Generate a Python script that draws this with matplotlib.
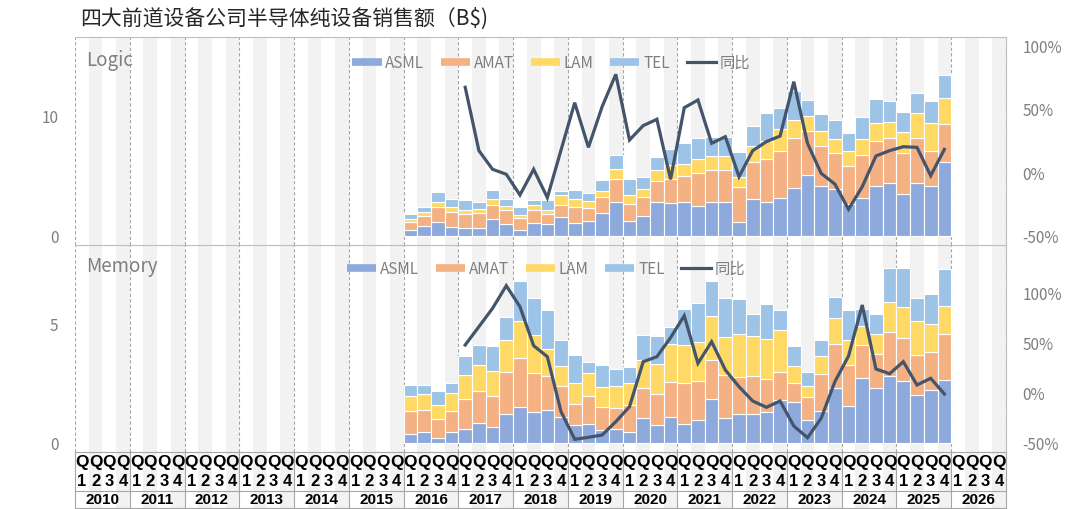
import matplotlib
matplotlib.use("Agg")
import matplotlib.pyplot as plt
import numpy as np
from matplotlib.lines import Line2D
from matplotlib.patches import Rectangle
import matplotlib.transforms as mtransforms

plt.rcParams['font.family'] = ['Noto Sans CJK SC', 'DejaVu Sans']

# ---------------- data ----------------
years = list(range(2010, 2027))
quarter_labels = ['1', '2', '3', '4']
first_bar_year = 2016          # bars from 2016Q1 to 2025Q4
first_line_year = 2017         # YoY from 2017Q1 to 2025Q4
companies = ['ASML', 'AMAT', 'LAM', 'TEL']
line_label = '同比'

logic_asml = [0.50, 0.84, 1.15, 0.76, 0.64, 0.70, 1.43, 1.04, 0.50, 1.09, 0.98, 1.62,
              1.06, 1.23, 1.96, 2.89, 1.23, 1.65, 2.83, 2.77, 2.83, 2.49, 2.86, 2.83,
              1.20, 3.08, 2.83, 3.19, 4.01, 5.13, 4.23, 3.92, 2.66, 3.22, 4.20, 4.43,
              3.56, 4.48, 4.23, 6.19]
logic_amat = [0.65, 0.87, 1.26, 1.28, 1.18, 1.20, 1.15, 1.12, 0.98, 1.09, 0.90, 1.01,
              1.35, 1.09, 1.35, 1.87, 1.46, 1.60, 1.76, 2.05, 2.21, 2.78, 2.69, 2.72,
              2.89, 3.11, 3.61, 3.98, 4.20, 3.69, 3.36, 3.03, 3.22, 3.56, 3.76, 3.83,
              3.44, 3.78, 2.94, 3.19]
logic_lam = [0.25, 0.33, 0.48, 0.42, 0.36, 0.37, 0.53, 0.33, 0.28, 0.43, 0.33, 0.79,
             0.70, 0.59, 0.44, 0.90, 0.73, 0.73, 0.93, 1.12, 0.98, 1.17, 1.14, 1.17,
             0.90, 1.37, 1.54, 1.82, 1.54, 1.26, 1.23, 1.20, 1.29, 1.40, 1.51, 1.32,
             1.71, 2.05, 2.30, 2.22]
logic_tel = [0.42, 0.42, 0.84, 0.68, 0.85, 0.62, 0.73, 0.62, 0.68, 0.39, 0.84, 0.39,
             0.76, 0.70, 0.96, 1.12, 1.40, 0.98, 1.12, 1.37, 1.82, 1.82, 1.66, 1.57,
             2.10, 1.68, 2.36, 1.79, 2.43, 1.35, 1.40, 1.60, 1.49, 1.85, 2.07, 1.79,
             1.74, 1.71, 1.85, 1.96]
logic_yoy = [67.5, 17.6, 2.9, -1.0, -17.3, 2.9, -19.4, 18.1, 55.4, 20.2, 52.2, 77.7,
             26.0, 37.3, 42.3, -5.0, 51.4, 57.5, 23.4, 28.6, -2.9, 17.6, 24.7, 29.1,
             71.9, 23.4, -0.3, -8.7, -28.6, -10.8, 13.4, 17.6, 20.7, 20.2, -2.1, 18.6]

mem_asml = [0.36, 0.46, 0.20, 0.46, 0.60, 0.83, 0.66, 1.20, 1.50, 1.29, 1.37, 1.09,
            0.74, 0.80, 0.55, 0.57, 0.45, 1.04, 0.74, 1.08, 0.78, 0.95, 1.83, 1.04,
            1.23, 1.23, 1.29, 1.81, 1.71, 0.95, 1.34, 2.30, 1.54, 2.75, 2.32, 2.83,
            2.59, 2.02, 2.24, 2.65]
mem_amat = [1.00, 0.93, 0.81, 0.90, 1.25, 1.35, 1.30, 1.80, 2.06, 1.67, 1.43, 1.29,
            0.91, 1.16, 0.95, 0.91, 1.15, 1.28, 1.30, 1.47, 1.76, 1.66, 1.64, 1.82,
            1.56, 1.60, 1.40, 1.19, 0.80, 0.97, 1.55, 1.86, 1.74, 1.37, 1.43, 1.82,
            1.84, 1.68, 1.57, 1.94]
mem_lam = [0.61, 0.65, 0.59, 0.74, 0.99, 1.10, 1.05, 1.31, 1.55, 1.58, 1.15, 0.84,
           0.89, 1.00, 0.87, 0.91, 0.94, 1.15, 1.27, 1.61, 1.59, 1.63, 1.88, 1.59,
           1.78, 1.65, 1.67, 1.76, 0.71, 0.46, 0.77, 1.11, 1.05, 0.80, 0.84, 1.29,
           1.30, 1.43, 1.19, 1.17]
mem_tel = [0.48, 0.41, 0.60, 0.44, 0.82, 0.85, 1.08, 0.98, 1.71, 1.55, 1.64, 1.09,
           1.14, 0.44, 0.89, 0.71, 0.64, 1.05, 1.20, 0.73, 1.51, 1.64, 1.46, 1.63,
           1.47, 0.93, 1.49, 0.81, 0.87, 0.60, 0.68, 0.88, 1.26, 0.71, 0.83, 1.40,
           1.64, 0.98, 1.27, 1.54]
mem_yoy = [48.0, 66.3, 84.7, 107.3, 86.3, 47.3, 36.3, -18.7, -46.3, -44.3, -42.0, -28.7,
           -13.7, 31.3, 36.3, 55.3, 77.3, 29.7, 51.3, 23.0, 6.3, -8.0, -14.3, -8.0,
           -33.0, -44.7, -25.3, 11.3, 37.0, 88.0, 24.0, 19.3, 31.3, 8.0, 14.7, -1.0]

# ---------------- style ----------------
colors = ['#8EA9DB', '#F4B183', '#FFD966', '#9DC3E6']
line_color = '#44546A'
stripe = '#F2F2F2'
grid_c = '#A6A6A6'
tick_c = '#7F7F7F'

W, H = 1080, 509
fig = plt.figure(figsize=(W / 100, H / 100), dpi=100)

x0, x1 = 75, 1006
def axrect(top, bottom):
    return [x0 / W, (H - bottom) / H, (x1 - x0) / W, (bottom - top) / H]

ax1 = fig.add_axes(axrect(37, 245))
ax2 = fig.add_axes(axrect(245, 452))

nq = len(years) * 4
bar_start = (first_bar_year - years[0]) * 4
line_start = (first_line_year - years[0]) * 4

panels = [
    (ax1, 'Logic', [logic_asml, logic_amat, logic_lam, logic_tel], logic_yoy,
     (-0.756, 16.72), [0, 10], (-56.7, 107.1), 0.875, 0.2975),
    (ax2, 'Memory', [mem_asml, mem_amat, mem_lam, mem_tel], mem_yoy,
     (-0.378, 8.32), [0, 5], (-59.0, 148.0), 0.884, 0.292),
]

for ax, name, series, yoy, ylim, yt, ylim2, legy, legx in panels:
    ax.set_xlim(-0.5, nq - 0.5)
    ax.set_ylim(*ylim)
    for q in range(nq):
        if q % 2 == 1:
            ax.axvspan(q - 0.5, q + 0.5, color=stripe, lw=0, zorder=0)
    for k in range(len(years) + 1):
        ax.axvline(k * 4 - 0.5, color=grid_c, lw=0.8, ls=(0, (3, 2)), zorder=1)
    xs = np.arange(bar_start, bar_start + len(series[0]))
    bottom = np.zeros(len(xs))
    handles = []
    for vals, c, lab in zip(series, colors, companies):
        ax.bar(xs, vals, width=1.0, bottom=bottom, color=c, edgecolor='white',
               linewidth=0.8, zorder=2)
        bottom = bottom + np.array(vals)
        handles.append(Line2D([0], [0], color=c, lw=5.5, solid_capstyle='butt', label=lab))
    ax.set_yticks(yt)
    ax.set_xticks([])
    ax.tick_params(axis='y', length=0, labelsize=11, labelcolor=tick_c, pad=12)
    for s in ['left', 'bottom']:
        ax.spines[s].set_visible(False)
    for s in ['top', 'right']:
        ax.spines[s].set_color('#BFBFBF')
        ax.spines[s].set_linewidth(0.8)
    ax.text(0.012, legy + 0.01, name, transform=ax.transAxes, fontsize=13.5,
            color=tick_c, va='center', ha='left', zorder=5)

    axr = ax.twinx()
    axr.set_ylim(*ylim2)
    xl = np.arange(line_start, line_start + len(yoy))
    axr.plot(xl, yoy, color=line_color, lw=2.3, zorder=4, solid_joinstyle='miter')
    axr.set_yticks([-50, 0, 50, 100])
    axr.set_yticklabels(['-50%', '0%', '50%', '100%'])
    axr.tick_params(axis='y', length=0, labelsize=11, labelcolor=tick_c, pad=12)
    for s in ['left', 'bottom', 'top', 'right']:
        axr.spines[s].set_visible(False)
    handles.append(Line2D([0], [0], color=line_color, lw=2.3, label=line_label))
    leg = axr.legend(handles=handles, loc='center left', bbox_to_anchor=(legx - 0.006, legy),
                     ncol=5, frameon=False, fontsize=11, handlelength=1.9,
                     handletextpad=0.25, columnspacing=1.1, borderaxespad=0)
    for t in leg.get_texts():
        t.set_color(tick_c)

# horizontal separator between panels
ax2.axhline(ax2.get_ylim()[1], color='#BFBFBF', lw=0.8, zorder=3)

# ---------------- category label area under bottom panel ----------------
trans = mtransforms.blended_transform_factory(ax2.transData, ax2.transAxes)
y_top, y_mid, y_bot = 0.0, -39 / 207, -56 / 207
for q in range(nq):
    if q % 2 == 1:
        ax2.add_patch(Rectangle((q - 0.5, y_bot), 1.0, y_top - y_bot, transform=trans,
                                color=stripe, lw=0, clip_on=False, zorder=0))
for yy in (y_top, y_mid, y_bot):
    ax2.add_line(Line2D([-0.5, nq - 0.5], [yy, yy], transform=trans, color=grid_c,
                        lw=0.8, clip_on=False))
for k in range(len(years) + 1):
    ax2.add_line(Line2D([k * 4 - 0.5, k * 4 - 0.5], [y_top, y_bot], transform=trans,
                        color=grid_c, lw=0.8, clip_on=False))
for k, yr in enumerate(years):
    for j, ql in enumerate(quarter_labels):
        q = k * 4 + j
        ax2.text(q, -10.5 / 207, 'Q', transform=trans, ha='center', va='center',
                 fontsize=12.5, fontweight='bold', family='Liberation Sans', color='#000000')
        ax2.text(q, -29.5 / 207, ql, transform=trans, ha='center', va='center',
                 fontsize=12, fontweight='bold', family='Liberation Sans', color='#000000')
    ax2.text(k * 4 + 1.5, -48 / 207, str(yr), transform=trans, ha='center', va='center',
             fontsize=11, fontweight='bold', family='Liberation Sans', color='#000000')

fig.text(80 / W, 1 - 19 / H, '四大前道设备公司半导体纯设备销售额（B$)', fontsize=15,
         color='#262626', ha='left', va='center')

fig.savefig('out.png', dpi=100, facecolor='white')
